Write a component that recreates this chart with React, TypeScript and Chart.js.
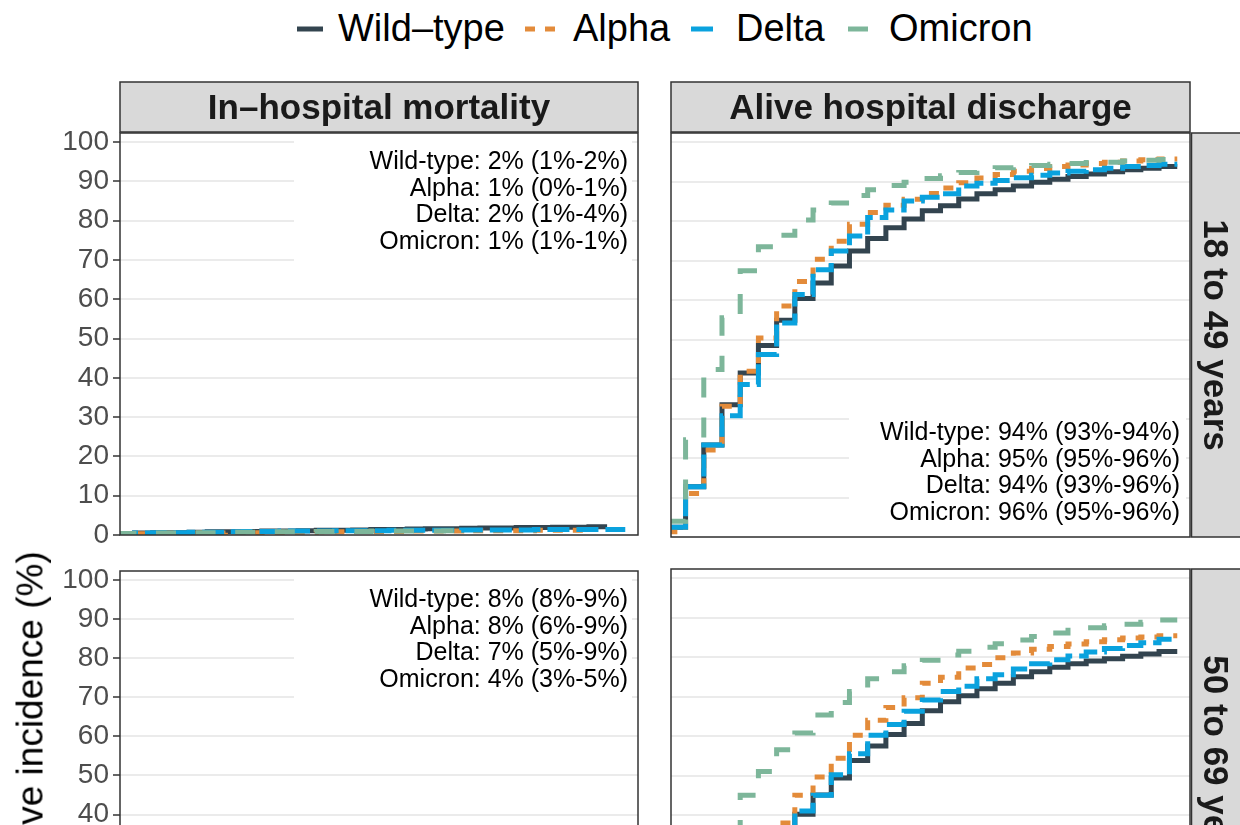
import React, { useEffect, useRef } from "react";
import { Chart, registerables } from "chart.js";

Chart.register(...registerables);

// ---------------- categories & text ----------------
const VARIANTS = ["Wild–type", "Alpha", "Delta", "Omicron"];
const OUTCOMES = ["In–hospital mortality", "Alive hospital discharge"];
const AGE_GROUPS = ["18 to 49 years", "50 to 69 years"];
const Y_TICKS = [0, 10, 20, 30, 40, 50, 60, 70, 80, 90, 100];
const Y_AXIS_TITLE = "Cumulative incidence (%)";

const LABELS_MORT_18_49 = ["Wild-type: 2% (1%-2%)", "Alpha: 1% (0%-1%)", "Delta: 2% (1%-4%)", "Omicron: 1% (1%-1%)"];
const LABELS_DISCH_18_49 = ["Wild-type: 94% (93%-94%)", "Alpha: 95% (95%-96%)", "Delta: 94% (93%-96%)", "Omicron: 96% (95%-96%)"];
const LABELS_MORT_50_69 = ["Wild-type: 8% (8%-9%)", "Alpha: 8% (6%-9%)", "Delta: 7% (5%-9%)", "Omicron: 4% (3%-5%)"];

// ---------------- values: cumulative incidence (%) reached on day 0, 1, 2, ... ----------------
// In-hospital mortality, 18 to 49 years
const MORT_18_49_WILD = [0.4, 0.5, 0.6, 0.6, 0.7, 0.8, 0.8, 0.9, 1.0, 1.0, 1.1, 1.2, 1.2, 1.3, 1.4, 1.4, 1.5, 1.6, 1.6, 1.7, 1.8, 1.8, 1.9, 1.9, 2.0, 2.0, 2.1];
const MORT_18_49_ALPHA = [0.3, 0.3, 0.4, 0.4, 0.5, 0.5, 0.6, 0.6, 0.7, 0.7, 0.7, 0.8, 0.8, 0.9, 0.9, 0.9, 1.0, 1.0, 1.0, 1.1, 1.1, 1.1, 1.1, 1.2, 1.2, 1.2];
const MORT_18_49_DELTA = [0.4, 0.5, 0.6, 0.6, 0.7, 0.7, 0.8, 0.9, 0.9, 1.0, 1.0, 1.0, 1.1, 1.1, 1.1, 1.2, 1.2, 1.2, 1.2, 1.3, 1.3, 1.3, 1.3, 1.4, 1.4, 1.4, 1.4, 1.4];
const MORT_18_49_OMICRON = [0.4, 0.4, 0.5, 0.5, 0.6, 0.6, 0.7, 0.7, 0.8, 0.8, 0.8, 0.9, 0.9, 0.9, 1.0, 1.0, 1.0, 1.0, 1.1];

// Alive hospital discharge, 18 to 49 years
const DISCH_18_49_WILD = [2.5, 12.7, 23.3, 33.5, 41.5, 48.5, 54.9, 60.4, 64.3, 68.6, 72.4, 75.6, 78.3, 80.5, 82.6, 83.9, 85.6, 86.9, 87.9, 88.9, 89.8, 90.6, 91.3, 91.9, 92.5, 93.0, 93.4, 93.8];
const DISCH_18_49_ALPHA = [1.3, 11.0, 22.0, 33.1, 42.0, 50.4, 58.5, 64.7, 70.3, 74.9, 79.2, 82.2, 84.0, 85.5, 87.0, 88.4, 89.7, 90.9, 91.8, 92.6, 93.3, 93.8, 94.2, 94.6, 94.9, 95.2, 95.5, 95.7];
const DISCH_18_49_DELTA = [2.5, 12.7, 23.3, 30.7, 38.6, 46.2, 54.2, 61.4, 67.7, 72.4, 76.2, 80.9, 82.8, 85.1, 86.0, 86.9, 88.9, 89.6, 90.3, 91.0, 91.6, 92.2, 92.6, 93.0, 93.4, 93.8, 94.1, 94.4];
const DISCH_18_49_OMICRON = [4.0, 24.6, 42.4, 55.5, 67.4, 73.5, 76.4, 80.3, 82.8, 84.6, 86.5, 87.9, 89.0, 89.8, 90.8, 91.5, 92.3, 93.0, 93.5, 93.9, 94.1, 94.4, 94.6, 94.8, 94.9, 95.2, 95.4, 95.6];

// In-hospital mortality, 50 to 69 years
const MORT_50_69_WILD = [0.5, 1.1, 1.7, 2.2, 2.8, 3.3, 3.8, 4.3, 4.7, 5.1, 5.5, 5.8, 6.1, 6.4, 6.7, 6.9, 7.1, 7.3, 7.5, 7.7, 7.8, 7.9, 8.0, 8.1, 8.2, 8.3, 8.4, 8.5];
const MORT_50_69_ALPHA = [0.4, 1.0, 1.6, 2.1, 2.7, 3.2, 3.7, 4.2, 4.6, 5.0, 5.4, 5.7, 6.0, 6.3, 6.6, 6.8, 7.0, 7.2, 7.4, 7.5, 7.6, 7.7, 7.8, 7.9, 8.0, 8.1, 8.2];
const MORT_50_69_DELTA = [0.4, 0.9, 1.4, 1.9, 2.4, 2.9, 3.3, 3.7, 4.1, 4.5, 4.8, 5.1, 5.4, 5.7, 5.9, 6.1, 6.3, 6.5, 6.7, 6.8, 6.9, 7.0, 7.1, 7.2, 7.3, 7.3, 7.4];
const MORT_50_69_OMICRON = [0.3, 0.6, 0.9, 1.2, 1.5, 1.8, 2.0, 2.3, 2.5, 2.7, 2.9, 3.1, 3.3, 3.4, 3.5, 3.6, 3.7, 3.8, 3.9, 4.0, 4.0, 4.1, 4.1, 4.2, 4.2];

// Alive hospital discharge, 50 to 69 years
const DISCH_50_69_WILD = [1.0, 6.0, 12.0, 18.0, 24.0, 30.0, 35.5, 40.2, 45.1, 49.4, 53.8, 57.5, 60.4, 63.2, 66.4, 68.7, 70.2, 72.0, 73.4, 75.0, 76.3, 77.4, 78.3, 79.0, 79.6, 80.2, 80.8, 81.4];
const DISCH_50_69_ALPHA = [0.8, 5.0, 11.0, 17.0, 23.0, 29.0, 38.0, 45.0, 49.6, 54.4, 60.2, 64.0, 67.2, 69.7, 73.4, 74.9, 77.2, 78.1, 79.8, 81.0, 82.0, 82.7, 83.3, 83.9, 84.4, 84.8, 85.1, 85.4];
const DISCH_50_69_DELTA = [1.0, 6.0, 12.0, 18.0, 24.0, 30.0, 36.0, 41.0, 45.0, 50.2, 55.5, 60.2, 62.9, 66.3, 69.1, 71.3, 72.6, 74.5, 75.5, 77.0, 78.3, 79.3, 80.3, 81.3, 82.2, 82.9, 83.6, 84.5];
const DISCH_50_69_OMICRON = [1.5, 5.5, 14.0, 30.0, 45.0, 51.0, 56.5, 60.8, 65.3, 68.5, 71.3, 74.5, 76.3, 77.8, 79.2, 80.5, 81.5, 82.5, 83.4, 84.3, 85.2, 86.1, 86.8, 87.4, 87.9, 88.3, 88.8, 89.4];

// ---------------- styles & layout ----------------
const FONT = '"Liberation Sans", Arial, Helvetica, sans-serif';
const COLORS = ["#33444F", "#E38B3A", "#0AA2DE", "#7DB69A"];
const DASHES: number[][] = [[], [10, 10], [22, 7], [20, 20]];
const LINE_W = 5;
const DRAW_ORDER = [4, 3, 2, 1];
const X_MIN = 0.2;
const X_MAX = 28.7;
const Y_MAX = 102.3;

type PanelSpec = {
  key: string;
  left: number;
  top: number;
  width: number;
  height: number;
  pad: { left: number; right: number; top: number; bottom: number };
  yAxisWidth: number;
  showTicks: boolean;
  series: number[][];
  labels: string[] | null;
  labelAt: "top" | "bottom";
  stripTop: string | null;
  stripRight: string | null;
};

const COL_GEOM = [
  { left: 0, width: 650, padLeft: 0, padRight: 12, yAxisWidth: 120, showTicks: true },
  { left: 660, width: 580, padLeft: 11, padRight: 50, yAxisWidth: 0, showTicks: false },
];
const ROW_GEOM = [
  { top: 70, padTop: 63, padBottom: 16 },
  { top: 553, padTop: 16, padBottom: 16 },
];
const PANEL_H = 404;

const PANEL_DATA = [
  [
    { series: [MORT_18_49_WILD, MORT_18_49_ALPHA, MORT_18_49_DELTA, MORT_18_49_OMICRON], labels: LABELS_MORT_18_49, labelAt: "top" as const },
    { series: [DISCH_18_49_WILD, DISCH_18_49_ALPHA, DISCH_18_49_DELTA, DISCH_18_49_OMICRON], labels: LABELS_DISCH_18_49, labelAt: "bottom" as const },
  ],
  [
    { series: [MORT_50_69_WILD, MORT_50_69_ALPHA, MORT_50_69_DELTA, MORT_50_69_OMICRON], labels: LABELS_MORT_50_69, labelAt: "top" as const },
    { series: [DISCH_50_69_WILD, DISCH_50_69_ALPHA, DISCH_50_69_DELTA, DISCH_50_69_OMICRON], labels: null, labelAt: "bottom" as const },
  ],
];

const PANELS: PanelSpec[] = [];
ROW_GEOM.forEach((rg, r) => {
  COL_GEOM.forEach((cg, c) => {
    const d = PANEL_DATA[r][c];
    PANELS.push({
      key: `p${r}${c}`,
      left: cg.left,
      top: rg.top,
      width: cg.width,
      height: rg.padTop + PANEL_H + rg.padBottom,
      pad: { left: cg.padLeft, right: cg.padRight, top: rg.padTop, bottom: rg.padBottom },
      yAxisWidth: cg.yAxisWidth,
      showTicks: cg.showTicks,
      series: d.series,
      labels: d.labels,
      labelAt: d.labelAt,
      stripTop: r === 0 ? OUTCOMES[c] : null,
      stripRight: c === 1 ? AGE_GROUPS[r] : null,
    });
  });
});

function toPoints(values: number[]) {
  const pts = values.map((v, i) => ({ x: i, y: v }));
  pts.push({ x: values.length, y: values[values.length - 1] });
  return pts;
}

function Panel({ spec }: { spec: PanelSpec }) {
  const ref = useRef<HTMLCanvasElement>(null);

  useEffect(() => {
    const canvas = ref.current;
    if (!canvas) return;

    const decor = {
      id: "facetDecor",
      beforeDatasetsDraw(chart: any) {
        if (!spec.labels) return;
        const ctx = chart.ctx;
        const ca = chart.chartArea;
        ctx.save();
        ctx.fillStyle = "#FFFFFF";
        if (spec.labelAt === "top") {
          ctx.fillRect(ca.left + 174, ca.top + 1, ca.right - 6 - (ca.left + 174), 131);
        } else {
          ctx.fillRect(ca.left + 178, ca.bottom - 127, ca.right - 4 - (ca.left + 178), 126);
        }
        ctx.restore();
      },
      afterDatasetsDraw(chart: any) {
        if (!spec.labels) return;
        const ctx = chart.ctx;
        const ca = chart.chartArea;
        ctx.save();
        ctx.font = `25px ${FONT}`;
        ctx.fillStyle = "#000000";
        ctx.textAlign = "right";
        ctx.textBaseline = "alphabetic";
        const step = 26.7;
        const y0 = spec.labelAt === "top" ? ca.top + 36 : ca.bottom - 97;
        spec.labels.forEach((t, i) => ctx.fillText(t, ca.right - 10, y0 + i * step));
        ctx.restore();
      },
      afterDraw(chart: any) {
        const ctx = chart.ctx;
        const ca = chart.chartArea;
        ctx.save();
        ctx.strokeStyle = "#333333";
        ctx.lineWidth = 1.5;
        ctx.strokeRect(ca.left, ca.top, ca.right - ca.left, ca.bottom - ca.top);
        if (spec.stripTop) {
          const sy = ca.top - 51;
          ctx.fillStyle = "#D9D9D9";
          ctx.fillRect(ca.left, sy, ca.right - ca.left, 50);
          ctx.strokeRect(ca.left, sy, ca.right - ca.left, 50);
          ctx.fillStyle = "#1A1A1A";
          ctx.font = `bold 35px ${FONT}`;
          ctx.textAlign = "center";
          ctx.textBaseline = "alphabetic";
          ctx.fillText(spec.stripTop, (ca.left + ca.right) / 2, sy + 25 + 12.4);
        }
        if (spec.stripRight) {
          const sx = ca.right + 1.5;
          ctx.fillStyle = "#D9D9D9";
          ctx.fillRect(sx, ca.top, 60, ca.bottom - ca.top);
          ctx.strokeRect(sx, ca.top, 60, ca.bottom - ca.top);
          ctx.fillStyle = "#1A1A1A";
          ctx.font = `bold 35px ${FONT}`;
          ctx.textAlign = "center";
          ctx.textBaseline = "alphabetic";
          ctx.translate(sx + 25, (ca.top + ca.bottom) / 2);
          ctx.rotate(Math.PI / 2);
          ctx.fillText(spec.stripRight, 0, 12.4);
        }
        ctx.restore();
      },
    };

    const chart = new Chart(canvas, {
      type: "line",
      data: {
        datasets: spec.series.map((vals, i) => ({
          label: VARIANTS[i],
          data: toPoints(vals),
          borderColor: COLORS[i],
          backgroundColor: COLORS[i],
          borderWidth: LINE_W,
          borderDash: DASHES[i],
          stepped: true,
          pointRadius: 0,
          pointHoverRadius: 0,
          fill: false,
          order: DRAW_ORDER[i],
        })),
      },
      options: {
        responsive: false,
        animation: false,
        devicePixelRatio: 1,
        events: [],
        layout: { padding: spec.pad },
        plugins: { legend: { display: false }, tooltip: { enabled: false } },
        scales: {
          x: { type: "linear", display: false, min: X_MIN, max: X_MAX },
          y: {
            type: "linear",
            min: 0,
            max: Y_MAX,
            afterFit: (s: any) => {
              s.width = spec.yAxisWidth;
            },
            afterBuildTicks: (s: any) => {
              s.ticks = Y_TICKS.map((v) => ({ value: v }));
            },
            border: { display: false },
            grid: {
              color: "#EBEBEB",
              lineWidth: 2,
              drawTicks: spec.showTicks,
              tickLength: 7,
              tickColor: "#333333",
              tickWidth: 1.5,
            },
            ticks: {
              display: spec.showTicks,
              padding: 4,
              color: "#4D4D4D",
              font: { family: FONT, size: 28, lineHeight: 1 },
            },
          },
        },
      } as any,
      plugins: [decor],
    });
    return () => chart.destroy();
  }, [spec]);

  return (
    <canvas
      ref={ref}
      width={spec.width}
      height={spec.height}
      style={{ position: "absolute", left: spec.left, top: spec.top, width: spec.width, height: spec.height }}
    />
  );
}

const LEGEND_KEY_LEFT = [297, 525, 691, 848];
const LEGEND_KEY_W = [26, 31, 22, 25];
const LEGEND_TEXT_LEFT = [338, 573, 736, 889];

function Legend() {
  return (
    <>
      {VARIANTS.map((name, i) => (
        <React.Fragment key={name}>
          <svg
            width={LEGEND_KEY_W[i]}
            height={10}
            style={{ position: "absolute", left: LEGEND_KEY_LEFT[i], top: 24 }}
          >
            <line
              x1={0}
              y1={5}
              x2={LEGEND_KEY_W[i]}
              y2={5}
              stroke={COLORS[i]}
              strokeWidth={LINE_W}
              strokeDasharray={DASHES[i].length ? DASHES[i].join(" ") : undefined}
            />
          </svg>
          <div
            style={{
              position: "absolute",
              left: LEGEND_TEXT_LEFT[i],
              top: 9,
              fontSize: 38,
              lineHeight: "38px",
              whiteSpace: "nowrap",
              color: "#000",
            }}
          >
            {name}
          </div>
        </React.Fragment>
      ))}
    </>
  );
}

export default function App() {
  return (
    <div
      style={{
        position: "absolute",
        left: 0,
        top: 0,
        width: 1240,
        height: 825,
        overflow: "hidden",
        background: "#FFFFFF",
        fontFamily: FONT,
      }}
    >
      <Legend />
      {PANELS.map((p) => (
        <Panel key={p.key} spec={p} />
      ))}
      <div
        style={{
          position: "absolute",
          left: 30,
          top: 761,
          transform: "translate(-50%, -50%) rotate(-90deg)",
          fontSize: 37,
          lineHeight: "37px",
          whiteSpace: "nowrap",
          color: "#000",
        }}
      >
        {Y_AXIS_TITLE}
      </div>
    </div>
  );
}
